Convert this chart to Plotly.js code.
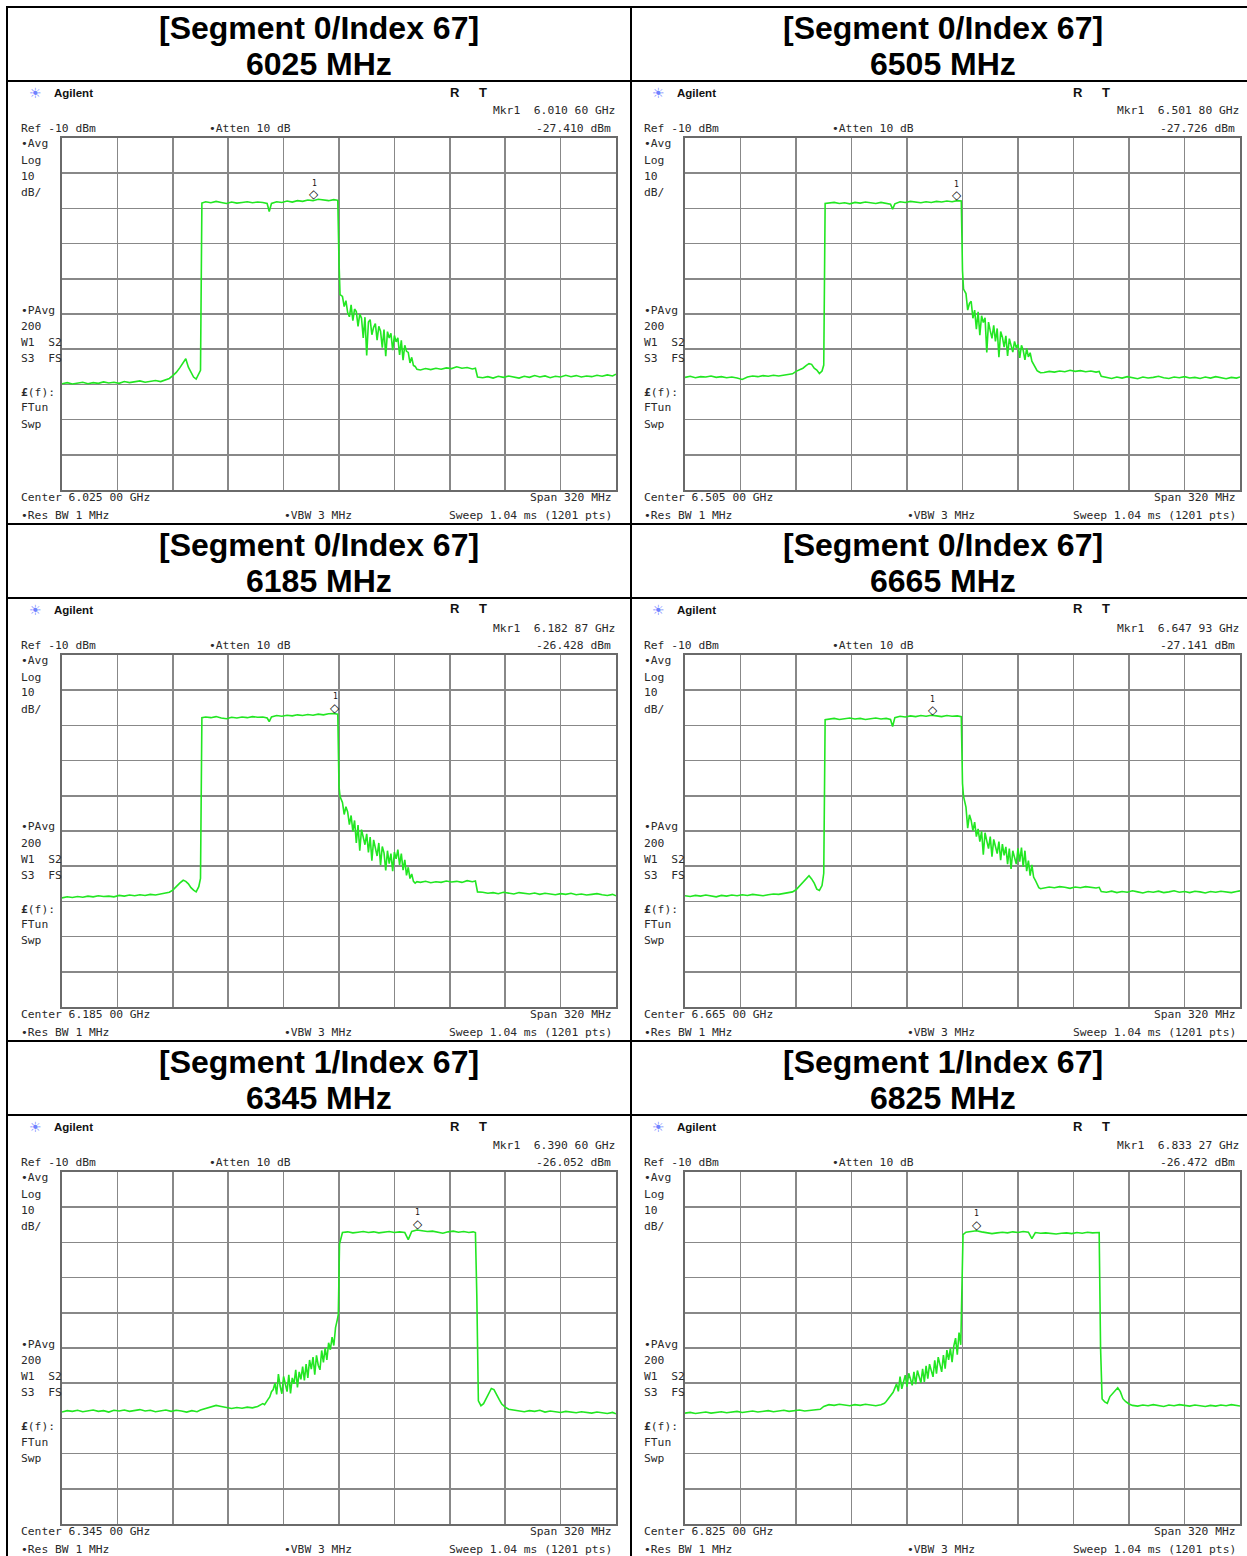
<!DOCTYPE html>
<html><head><meta charset="utf-8">
<script src="https://cdn.plot.ly/plotly-3.0.1.min.js"></script>
<style>html,body{margin:0;padding:0;background:#fff;} #chart{width:1247px;height:1556px;}</style>
</head><body><div id="chart"></div>
<script>
// ---------------- DATA ----------------
const centerMHz = [6025, 6505, 6185, 6665, 6345, 6825];
const segmentLabels = ['[Segment 0/Index 67]', '[Segment 0/Index 67]', '[Segment 0/Index 67]', '[Segment 0/Index 67]', '[Segment 1/Index 67]', '[Segment 1/Index 67]'];
const markerGHz = [6.01060, 6.50180, 6.18287, 6.64793, 6.39060, 6.83327];
const markerDBm = [-27.410, -27.726, -26.428, -27.141, -26.052, -26.472];
const refLevel = -10, dbPerDiv = 10, spanMHz = 320;
const leftLabels = ['•Avg', 'Log', '10', 'dB/', '•PAvg', '200', 'W1  S2', 'S3  FS', '<b>£</b>(f):', 'FTun', 'Swp'];

// frequency offsets from span start (MHz)
const offsA = [0,3,6,9,12,15,18,21,24,27,30,33,36,39,42,45,48,51,54,57,60,
 62,64,66,68,70,71.5,73,74.5,76,77.5,79,
 80,80.8,
 83,86,89,92,95,98,101,104,107,110,113,116,118.5,119.7,121,124,127,130,133,136,139,142,145,148,151,154,157,159.3,
 160,160.6,
 162,163,164,165,166,167,168,169,170,171,172,173,174,175,176,177,178,179,180,181,182,183,184,185,186,187,188,189,190,191,192,193,194,195,196,197,198,199,200,201,202,203,204,205,
 207,210,213,216,219,222,225,228,231,234,237,238.8,
 240,
 243,246,249,252,255,258,261,264,267,270,273,276,279,282,285,288,291,294,297,300,303,306,309,312,315,318,320];

const offsB = [0,3,6,9,12,15,18,21,24,27,30,33,36,39,42,45,48,51,54,57,60,63,66,69,72,75,78,
 80,83,86,89,92,95,98,101,104,107,110,113,
 115,116,117,118,119,120,121,122,123,124,125,126,127,128,129,130,131,132,133,134,135,136,137,138,139,140,141,142,143,144,145,146,147,148,149,150,151,152,153,154,155,156,157,158,159,
 159.6,160.3,
 162,165,168,171,174,177,180,183,186,189,192,195,198,200,202,205,208,211,214,217,220,223,226,229,232,235,237.5,
 238.8,239.6,240.5,
 242,243.5,245,246.5,248,249.5,251,252.5,254,256,258,
 261,264,267,270,273,276,279,282,285,288,291,294,297,300,303,306,309,312,315,318,320];

// trace levels (dBm)
const lvl6025 = [-79.8,-79.5,-79.9,-79.6,-79.4,-79.8,-79.5,-79.7,-79.3,-79.6,-79.4,-79.7,-79.2,-79.5,-79.3,-79.0,-79.4,-79.1,-78.9,-79.2,-78.6,
 -78.3,-77.5,-76.6,-75.3,-73.8,-72.7,-75.1,-76.4,-77.9,-78.5,-77.2,
 -76.0,-28.5,
 -28.1,-28.4,-28.0,-28.3,-28.6,-28.2,-28.5,-28.3,-28.1,-28.4,-28.2,-28.3,-28.6,-30.9,-28.6,-28.1,-28.3,-27.9,-28.2,-27.8,-28.0,-27.6,-27.8,-27.4,-27.6,-27.8,-27.5,-27.7,
 -45.0,-54.5,
 -55.0,-57.9,-56.2,-59.6,-60.8,-57.4,-61.9,-58.6,-59.3,-63.5,-60.0,-61.2,-66.8,-60.9,-71.8,-62.3,-61.6,-65.9,-63.8,-62.7,-67.4,-63.5,-64.9,-69.6,-64.4,-72.0,-65.0,-66.8,-65.5,-70.3,-66.1,-67.9,-66.8,-71.6,-67.5,-73.1,-68.9,-70.6,-70.9,-73.9,-72.3,-74.6,-74.9,-75.7,
 -75.9,-75.5,-75.8,-75.4,-75.7,-75.3,-75.5,-75.0,-75.4,-75.2,-75.6,-75.4,
 -77.9,
 -78.1,-77.8,-78.2,-77.7,-78.0,-77.6,-77.9,-78.2,-77.7,-78.0,-77.5,-77.9,-77.6,-78.1,-77.7,-77.9,-77.4,-77.8,-77.5,-77.9,-77.6,-77.8,-77.4,-77.7,-77.3,-77.6,-77.1];

const lvl6505 = [-78.0,-77.7,-78.1,-77.8,-77.9,-77.6,-78.0,-77.8,-78.1,-77.9,-78.2,-78.6,-77.9,-77.6,-77.8,-77.5,-77.7,-77.4,-77.6,-77.3,-77.2,
 -77.0,-76.3,-75.9,-75.4,-74.6,-74.1,-74.3,-75.4,-75.9,-76.9,-76.2,
 -74.5,-28.6,
 -28.5,-28.3,-28.6,-28.4,-28.7,-28.3,-28.5,-28.2,-28.4,-28.6,-28.3,-28.5,-28.8,-30.2,-28.7,-28.1,-28.3,-28.0,-28.2,-28.4,-28.1,-28.3,-28.0,-28.2,-27.9,-28.1,-27.8,-27.9,
 -47.7,-52.9,
 -54.2,-58.9,-57.0,-56.4,-61.2,-58.9,-64.3,-59.4,-66.0,-60.5,-62.4,-61.1,-70.9,-62.3,-64.8,-66.9,-63.2,-67.8,-64.1,-72.3,-65.0,-66.6,-69.4,-66.2,-71.9,-67.0,-68.9,-70.8,-67.8,-69.6,-68.6,-72.5,-68.9,-70.3,-73.0,-69.8,-72.2,-71.0,-73.4,-74.4,-75.1,-76.1,-76.4,-76.7,
 -76.6,-76.3,-76.5,-76.2,-76.4,-76.0,-76.3,-76.1,-76.4,-76.2,-76.5,-76.3,
 -77.7,
 -78.0,-78.3,-77.9,-78.2,-77.8,-78.1,-78.4,-77.9,-78.2,-78.0,-77.7,-78.1,-78.3,-77.9,-78.1,-77.8,-78.2,-78.0,-78.3,-77.9,-78.2,-77.8,-78.1,-78.4,-78.0,-78.2,-77.9];

const lvl6185 = [-79.0,-78.7,-78.9,-78.6,-78.8,-78.5,-78.7,-78.4,-78.6,-78.5,-78.7,-78.3,-78.5,-78.2,-78.4,-78.1,-78.3,-78.0,-78.2,-77.9,-77.7,
 -77.4,-76.8,-75.7,-74.8,-74.0,-74.3,-75.0,-76.1,-76.8,-77.3,-75.8,
 -73.5,-27.8,
 -27.6,-27.8,-27.5,-27.9,-28.1,-27.7,-27.9,-27.6,-27.8,-27.5,-27.7,-27.6,-27.9,-28.9,-27.6,-27.2,-27.4,-27.1,-27.3,-27.0,-27.2,-26.9,-27.1,-26.8,-27.0,-26.7,-26.6,-26.8,
 -47.3,-50.2,
 -51.9,-55.3,-53.1,-54.6,-58.2,-55.6,-60.1,-57.0,-63.4,-58.3,-65.6,-59.6,-61.4,-63.9,-60.8,-66.1,-61.7,-68.4,-62.5,-64.6,-67.1,-63.4,-69.7,-64.4,-66.2,-71.2,-65.6,-69.3,-66.4,-71.4,-66.0,-67.9,-65.3,-69.6,-66.4,-71.1,-68.2,-72.6,-70.3,-73.5,-72.2,-74.3,-74.8,-74.4,
 -74.6,-74.3,-74.7,-74.4,-74.6,-74.2,-74.5,-74.3,-74.6,-74.1,-74.4,-74.2,
 -77.3,
 -77.4,-77.7,-77.5,-77.8,-77.4,-77.6,-77.9,-77.5,-77.7,-77.9,-77.6,-78.0,-77.7,-77.9,-78.1,-77.8,-78.0,-77.7,-78.1,-77.9,-78.2,-78.0,-77.8,-78.1,-78.3,-78.0,-78.4];

const lvl6665 = [-78.4,-78.6,-78.3,-78.5,-78.2,-78.4,-78.7,-78.3,-78.5,-78.2,-78.4,-78.1,-78.3,-78.0,-78.2,-78.4,-78.1,-77.9,-78.0,-77.8,-77.5,
 -77.3,-76.7,-75.6,-74.5,-73.5,-72.7,-73.6,-74.8,-76.5,-76.9,-75.5,
 -72.0,-28.4,
 -28.2,-28.0,-28.3,-28.1,-27.9,-28.2,-28.0,-28.3,-28.1,-27.9,-28.2,-28.0,-28.3,-30.3,-27.8,-27.4,-27.6,-27.3,-27.5,-27.2,-27.4,-27.1,-27.3,-27.5,-27.2,-27.4,-27.3,-27.5,
 -46.5,-50.2,
 -53.2,-59.2,-55.4,-57.0,-59.9,-57.5,-61.6,-59.4,-63.0,-60.1,-66.7,-60.5,-62.8,-65.0,-61.6,-67.3,-62.4,-64.4,-66.4,-63.0,-68.3,-63.7,-66.9,-64.5,-69.4,-65.0,-70.8,-65.6,-67.8,-69.4,-64.9,-68.7,-64.7,-70.2,-65.6,-71.4,-68.4,-72.7,-69.6,-73.1,-74.0,-75.3,-76.1,-76.4,
 -76.2,-75.9,-76.1,-75.8,-76.0,-76.3,-75.9,-76.1,-75.8,-76.0,-76.2,-76.0,
 -77.2,
 -77.4,-77.1,-77.5,-77.2,-77.4,-77.0,-77.3,-77.6,-77.2,-77.4,-77.1,-77.5,-77.3,-77.0,-77.4,-77.2,-77.5,-77.1,-77.3,-77.6,-77.2,-77.4,-77.1,-77.3,-77.5,-77.2,-77.0];

const lvl6345 = [-78.2,-77.8,-78.0,-77.7,-78.1,-77.9,-77.6,-78.0,-77.8,-78.2,-77.7,-77.9,-77.6,-78.0,-77.8,-77.5,-77.9,-77.7,-78.1,-77.8,-77.6,-78.0,-77.7,-77.9,-78.2,-77.8,-78.1,
 -77.6,-77.1,-76.7,-76.3,-76.6,-76.9,-77.2,-76.9,-77.1,-76.8,-77.0,-76.6,
 -76.2,-75.8,-76.1,-75.5,-74.6,-73.9,-72.4,-71.8,-70.0,-73.2,-67.4,-70.8,-73.0,-68.1,-69.9,-72.4,-67.6,-72.9,-68.5,-70.2,-66.2,-71.2,-66.8,-68.9,-65.3,
 -69.2,-64.6,-68.5,-63.4,-66.0,
 -62.6,-67.6,-62.1,-64.9,-66.2,-60.7,-64.1,-60.0,-63.4,-58.5,-60.5,-56.9,-59.3,-54.2,-52.0,
 -50.5,-30.5,
 -27.2,-27.0,-27.3,-27.1,-26.9,-27.2,-27.0,-27.3,-27.1,-26.9,-27.2,-27.0,-27.2,-29.2,-26.9,-26.5,-26.7,-26.9,-26.8,-27.2,-27.4,-27.0,-26.8,-27.1,-26.9,-27.2,-27.0,
 -27.2,-45.0,-75.0,
 -76.4,-75.8,-74.2,-72.9,-71.5,-71.8,-73.0,-74.6,-75.9,-76.8,-77.4,
 -77.6,-77.9,-78.1,-77.8,-78.0,-77.7,-78.2,-77.9,-78.1,-78.3,-78.0,-78.2,-78.4,-78.1,-78.3,-78.5,-78.2,-78.4,-78.6,-78.3,-78.7];

const lvl6825 = [-78.5,-78.3,-78.6,-78.4,-78.2,-78.5,-78.3,-78.1,-78.4,-78.2,-78.0,-78.3,-78.1,-77.9,-78.2,-78.0,-77.8,-78.1,-77.9,-77.7,-78.0,-77.8,-77.6,-77.9,-77.7,-77.5,-77.4,
 -76.6,-76.1,-76.3,-76.0,-76.2,-76.4,-76.1,-76.3,-76.0,-76.2,-76.4,-76.1,
 -75.7,-75.2,-74.6,-74.1,-73.2,-72.6,-71.4,-70.2,-72.3,-68.1,
 -71.6,-69.4,-67.7,-71.0,-67.2,-68.8,-70.6,-66.8,-70.3,-66.4,-68.1,-69.9,-65.9,-69.6,-65.1,
 -68.7,-64.6,-66.4,-68.2,-63.5,-67.3,-62.6,-64.9,-66.8,-62.0,-65.9,-60.6,-63.4,-60.1,-64.0,-59.4,-57.2,-61.9,-55.6,-59.1,
 -41.0,-27.8,
 -27.1,-26.9,-26.7,-27.0,-27.2,-27.5,-27.3,-27.1,-27.3,-27.0,-27.2,-26.9,-27.1,-28.9,-27.2,-27.4,-27.3,-27.5,-27.6,-27.4,-27.3,-27.5,-27.2,-27.4,-27.1,-27.3,-27.1,
 -27.2,-60.0,-74.5,
 -75.3,-75.7,-73.8,-72.9,-71.9,-71.3,-72.4,-74.4,-75.2,-75.9,-76.3,
 -76.5,-76.2,-76.4,-76.1,-76.3,-76.6,-76.2,-76.4,-76.1,-76.3,-76.5,-76.2,-76.4,-76.6,-76.3,-76.5,-76.2,-76.4,-76.1,-76.3,-76.5];

const offsets = [offsA, offsA, offsA, offsA, offsB, offsB];
const levels = [lvl6025, lvl6505, lvl6185, lvl6665, lvl6345, lvl6825];

// ---------------- LAYOUT ----------------
const W = 1247, H = 1556;
const px = x => x / W;
const py = y => 1 - y / H;
const nb = s => s.replace(/ /g, '\u00a0');
const monoFont = {family: 'DejaVu Sans Mono', size: 11.3, color: '#2a2a2a'};

offsets.forEach((o, i) => {
  if (o.length !== levels[i].length) throw new Error('length mismatch panel ' + i + ': ' + o.length + ' vs ' + levels[i].length);
});

const traces = [];
const annotations = [];
const shapes = [];
const layout = {
  width: W, height: H, margin: {l: 0, r: 0, t: 0, b: 0},
  paper_bgcolor: '#fff', plot_bgcolor: '#fff', showlegend: false, hovermode: false,
  annotations, shapes
};

function txt(x, y, text, xanchor, font, extra) {
  annotations.push(Object.assign({
    xref: 'paper', yref: 'paper', x: px(x), y: py(y), text: text, showarrow: false,
    xanchor: xanchor, yanchor: 'middle', font: font || monoFont, borderpad: 0
  }, extra || {}));
}

const fmt5 = v => { const s = v.toFixed(5); return s.slice(0, s.length - 2) + ' ' + s.slice(s.length - 2); };

for (let i = 0; i < 6; i++) {
  const col = i % 2, row = Math.floor(i / 2);
  const gx = col ? 685 : 62, gw = col ? 555 : 554;
  const gy = 138 + 517 * row, gh = 352;
  const n = i + 1;
  const sfx = n === 1 ? '' : String(n);
  const c = centerMHz[i];
  const start = c - spanMHz / 2;
  const axCommon = {
    showgrid: true, gridcolor: '#888888', gridwidth: 1.6, zeroline: false,
    showticklabels: false, ticks: '', showline: true, mirror: true, linecolor: '#6a6a6a', linewidth: 2,
    fixedrange: true
  };
  layout['xaxis' + sfx] = Object.assign({}, axCommon, {
    domain: [px(gx), px(gx + gw)], range: [start, start + spanMHz], tick0: start, dtick: spanMHz / 10,
    anchor: 'y' + sfx
  });
  layout['yaxis' + sfx] = Object.assign({}, axCommon, {
    domain: [py(gy + gh), py(gy)], range: [refLevel - 10 * dbPerDiv, refLevel], tick0: refLevel - 10 * dbPerDiv, dtick: dbPerDiv,
    anchor: 'x' + sfx
  });
  traces.push({
    type: 'scatter', mode: 'lines', xaxis: 'x' + sfx, yaxis: 'y' + sfx,
    x: offsets[i].map(o => start + o), y: levels[i],
    line: {color: '#22e622', width: 1.6}, hoverinfo: 'skip'
  });
  // marker 1
  annotations.push({xref: 'x' + sfx, yref: 'y' + sfx, x: markerGHz[i] * 1000, y: markerDBm[i], text: '<b>◇</b>', showarrow: false,
    yshift: 5, font: {family: 'DejaVu Sans', size: 12, color: '#111'}});
  annotations.push({xref: 'x' + sfx, yref: 'y' + sfx, x: markerGHz[i] * 1000, y: markerDBm[i], text: '1', showarrow: false,
    yshift: 16, font: {family: 'DejaVu Sans Mono', size: 8, color: '#111'}});

  // header cell
  const cellC = col ? 943 : 319;
  const hy = 7 + 517 * row;
  const hFont = {family: 'Liberation Sans, Arial', size: 32, color: '#000'};
  txt(cellC, hy + 21, '<b>' + segmentLabels[i] + '</b>', 'center', hFont);
  txt(cellC, hy + 57, '<b>' + c + ' MHz</b>', 'center', hFont);

  // instrument texts
  txt(gx - 27, gy - 45, '☀', 'center', {family: 'DejaVu Sans', size: 14, color: '#6f82ff'});
  txt(gx - 9, gy - 45, '<b>Agilent</b>', 'left', {family: 'Liberation Sans', size: 11.5, color: '#111'});
  txt(gx + 393, gy - 46, '<b>R</b>', 'center', {family: 'Liberation Sans', size: 13, color: '#111'});
  txt(gx + 421, gy - 46, '<b>T</b>', 'center', {family: 'Liberation Sans', size: 13, color: '#111'});
  txt(gx + gw, gy - 27, nb('Mkr1  ' + fmt5(markerGHz[i]) + ' GHz'), 'right');
  txt(gx - 42, gy - 10, nb('Ref ' + refLevel + ' dBm'), 'left');
  txt(gx + 146, gy - 10, nb('•Atten 10 dB'), 'left');
  txt(gx + gw - 4, gy - 10, nb(markerDBm[i].toFixed(3) + ' dBm'), 'right');
  const ly = [5, 22, 38, 54, 172, 188, 204, 220, 254, 270, 286];
  leftLabels.forEach((t, k) => txt(gx - 42, gy + ly[k], nb(t), 'left'));
  txt(gx - 42, gy + 359, nb('Center ' + fmt5(c / 1000) + ' GHz'), 'left');
  txt(gx + gw - 3, gy + 359, nb('Span ' + spanMHz + ' MHz'), 'right');
  txt(gx - 42, gy + 377, nb('•Res BW 1 MHz'), 'left');
  txt(gx + 221, gy + 377, nb('•VBW 3 MHz'), 'left');
  txt(gx + gw - 3, gy + 377, nb('Sweep 1.04 ms (1201 pts)'), 'right');
}

// table lines
function hline(y, x0, x1) { shapes.push({type: 'line', xref: 'paper', yref: 'paper', x0: px(x0), x1: px(x1), y0: py(y), y1: py(y), line: {color: '#000', width: 2}}); }
function vline(x, y0, y1) { shapes.push({type: 'line', xref: 'paper', yref: 'paper', x0: px(x), x1: px(x), y0: py(y0), y1: py(y1), line: {color: '#000', width: 2}}); }
[7, 81, 524, 598, 1041, 1115].forEach(y => hline(y, 6, W + 2));
vline(7, 6, H + 2);
vline(631, 6, H + 2);

Plotly.newPlot('chart', traces, layout, {staticPlot: true});
</script>
</body></html>
